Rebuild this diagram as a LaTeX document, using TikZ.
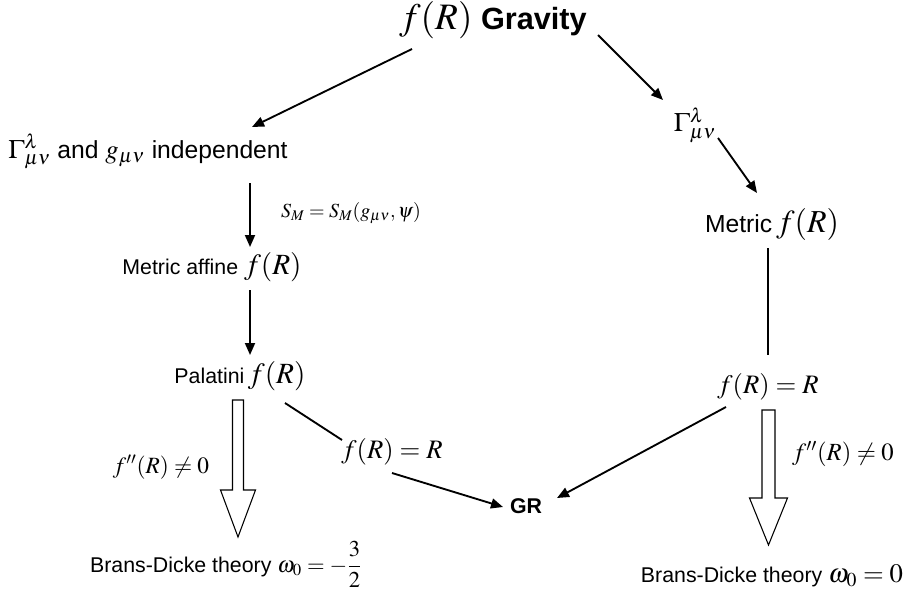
\documentclass[tikz,border=0pt]{standalone}
\usepackage{mathptmx}
\usepackage[no-math]{fontspec}
\setmainfont{Liberation Sans}
\usetikzlibrary{arrows.meta,calc}
\newcommand{\mth}[2]{{\fontsize{#1}{#1}\selectfont$#2$}}
\tikzset{
    flow/diagram/.style={
        x=0.75pt, y=-0.75pt,
        draw=black,
        text=black,
        line join=round,
        every node/.style={inner sep=0pt, outer sep=0pt, anchor=base}
    },
    flow/map/.style={
        draw=black, line width=1.4pt,
        -{Triangle[length=9pt, width=7.5pt]}
    },
    flow/link/.style={draw=black, line width=1.4pt},
    flow/hollow/.style={draw=black, line width=0.8pt, fill=white, line join=miter},
    flow/title/.style={font=\fontsize{23}{26}\selectfont\bfseries},
    flow/big/.style={font=\fontsize{18.5}{20}\selectfont},
    flow/text/.style={font=\fontsize{16}{18}\selectfont},
    flow/small/.style={font=\fontsize{16}{18}\selectfont},
    flow/bold/.style={font=\fontsize{16}{18}\selectfont\bfseries}
}
\begin{document}
\begin{tikzpicture}[flow/diagram]
    \useasboundingbox (0,0) rectangle (909,606);
    % nodes
    \node[flow/title] (title) at (493,30) {\mth{28}{f(R)} Gravity};
    \node[flow/big] (gind) at (148,158)
        {\mth{20}{\Gamma^{\lambda}_{\mu\nu}} and \mth{20}{g_{\mu\nu}} independent};
    \node (sm) at (351,217) {\mth{15}{S_M = S_M(g_{\mu\nu},\psi)}};
    \node[flow/text] (maff) at (212,274) {Metric affine \mth{22}{f(R)}};
    \node[flow/text] (pal) at (240,383) {Palatini\,\mth{22}{f(R)}};
    \node (fpp1) at (161,473) {\mth{17.5}{f''(R)\neq 0}};
    \node[flow/small] (bd1) at (226,572)
        {Brans-Dicke theory \mth{17}{\displaystyle\omega_0 = -\frac{3}{2}}};
    \node (feq1) at (392,458) {\mth{20}{f(R) = R}};
    \node[flow/bold] (gr) at (526,513) {GR};
    \node (gam) at (695,132) {\mth{20}{\Gamma^{\lambda}_{\mu\nu}}};
    \node[flow/big] (metf) at (772,232) {Metric\,\mth{24}{f(R)}};
    \node (feq2) at (768,393) {\mth{20}{f(R) = R}};
    \node (fpp2) at (843,460) {\mth{18.5}{f''(R)\neq 0}};
    \node[flow/small] (bd2) at (772,582)
        {Brans-Dicke theory \mth{20}{\omega_0 = 0}};
    % connectors
    \draw[flow/map] ($(title.base)+(-81,19)$) -- ($(gind.base)+(104,-31)$);
    \draw[flow/map] ($(title.base)+(105,5)$) -- ($(gam.base)+(-32,-32)$);
    \draw[flow/map] ($(gind.base)+(102,25)$) -- ($(maff.base)+(38,-27)$);
    \draw[flow/map] ($(maff.base)+(38,16)$) -- ($(pal.base)+(10,-28)$);
    \draw[flow/link] ($(pal.base)+(45,20)$) -- ($(feq1.base)+(-50,-18)$);
    \draw[flow/map] ($(feq1.base)+(0,15)$) -- ($(gr.base)+(-23,-6)$);
    \draw[flow/map] ($(gam.base)+(23,6)$) -- ($(metf.base)+(-15,-39)$);
    \draw[flow/link] ($(metf.base)+(-4,16)$) -- ($(feq2.base)+(0,-38)$);
    \draw[flow/map] ($(feq2.base)+(-42,14)$) -- ($(gr.base)+(31,-15)$);
    % hollow arrows
    \coordinate (pal-out) at ($(pal.base)+(-2,17)$);
    \draw[flow/hollow] (pal-out) ++(-5.5,0) -- ++(0,90) -- ++(-12,0)
        -- ++(17.5,47) -- ++(17.5,-47) -- ++(-12,0) -- ++(0,-90) -- cycle;
    \coordinate (feq-out) at ($(feq2.base)+(0.5,17)$);
    \draw[flow/hollow] (feq-out) ++(-6.5,0) -- ++(0,88) -- ++(-12.5,0)
        -- ++(19,47) -- ++(19,-47) -- ++(-12.5,0) -- ++(0,-88) -- cycle;
\end{tikzpicture}
\end{document}
